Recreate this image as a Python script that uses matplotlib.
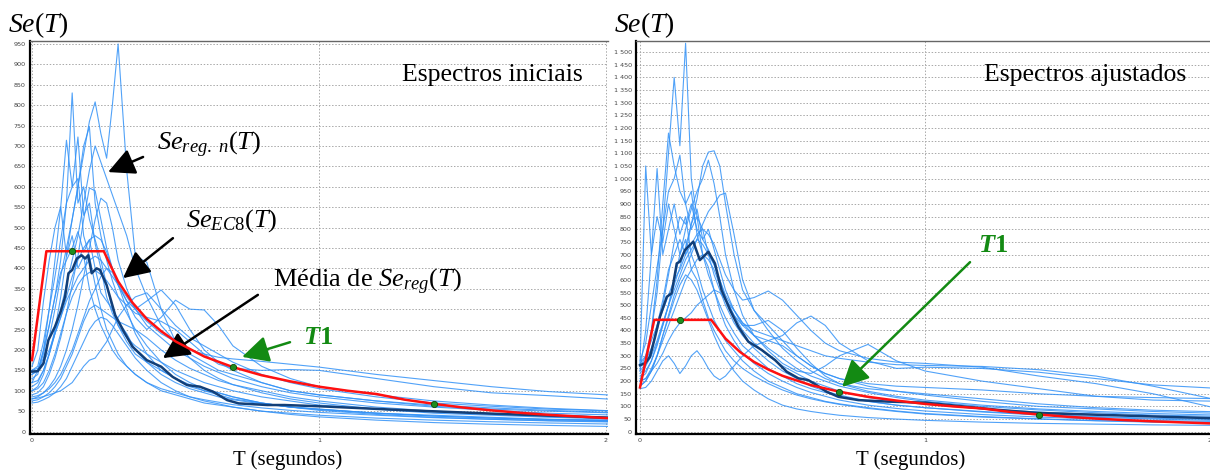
import matplotlib
matplotlib.use("Agg")
import matplotlib.pyplot as plt
from matplotlib.ticker import MultipleLocator, FuncFormatter

plt.rcParams['mathtext.fontset'] = 'custom'
plt.rcParams['mathtext.rm'] = 'Liberation Serif'
plt.rcParams['mathtext.it'] = 'Liberation Serif:italic'
plt.rcParams['mathtext.bf'] = 'Liberation Serif:bold'
plt.rcParams['mathtext.bfit'] = 'Liberation Serif:italic:bold'

# ---------------- data ----------------
T_grid = [0, 0.02, 0.04, 0.06, 0.08, 0.10, 0.12, 0.14, 0.16, 0.18, 0.20, 0.22, 0.24, 0.26,
          0.28, 0.30, 0.33, 0.36, 0.40, 0.45, 0.50, 0.55, 0.60, 0.65, 0.70, 0.80, 0.90, 1.0,
          1.2, 1.4, 1.6, 1.8, 2.05]

# initial (recorded) spectra
L01 = [120, 150, 200, 260, 330, 420, 560, 830, 560, 600, 520, 470, 420, 360, 300, 260, 220, 190, 170, 150, 130, 115, 100, 95, 85, 70, 60, 52, 42, 35, 30, 26, 23]
L02 = [140, 150, 180, 230, 300, 380, 450, 520, 600, 680, 760, 808, 730, 670, 800, 950, 640, 430, 415, 300, 220, 180, 150, 130, 115, 95, 80, 70, 55, 45, 40, 35, 30]
L03 = [100, 110, 140, 190, 250, 330, 430, 520, 600, 700, 747, 560, 480, 420, 370, 330, 290, 250, 210, 170, 140, 120, 105, 95, 85, 70, 60, 55, 45, 38, 33, 30, 26]
L04 = [150, 160, 220, 300, 380, 470, 560, 600, 722, 530, 560, 460, 400, 330, 290, 260, 230, 210, 190, 170, 150, 135, 120, 110, 100, 85, 75, 65, 55, 48, 42, 37, 33]
L05 = [130, 140, 200, 300, 420, 550, 714, 600, 620, 480, 430, 360, 300, 250, 220, 190, 160, 140, 120, 100, 90, 80, 70, 65, 60, 50, 45, 40, 33, 28, 24, 21, 18]
L06 = [110, 120, 150, 190, 240, 300, 360, 420, 480, 560, 640, 700, 660, 620, 580, 540, 480, 400, 330, 260, 220, 190, 170, 150, 140, 120, 100, 90, 75, 65, 58, 52, 46]
L07 = [90, 95, 110, 140, 180, 230, 290, 360, 430, 520, 597, 590, 520, 450, 400, 360, 300, 240, 190, 150, 130, 110, 100, 90, 80, 70, 60, 55, 45, 40, 35, 30, 28]
L08 = [80, 85, 95, 110, 130, 160, 200, 250, 310, 380, 450, 520, 572, 560, 500, 420, 350, 300, 260, 230, 200, 180, 160, 145, 130, 110, 95, 85, 70, 60, 52, 45, 40]
L09 = [160, 200, 320, 420, 500, 551, 430, 480, 400, 430, 350, 300, 260, 230, 200, 180, 160, 140, 120, 105, 95, 85, 78, 72, 66, 58, 52, 47, 40, 34, 30, 27, 24]
L10 = [75, 78, 85, 95, 110, 130, 160, 190, 230, 270, 300, 310, 300, 290, 280, 270, 260, 250, 230, 200, 175, 155, 140, 125, 115, 100, 85, 75, 60, 50, 44, 39, 35]
L11 = [85, 88, 95, 105, 120, 140, 170, 200, 240, 280, 320, 350, 380, 400, 390, 360, 320, 300, 320, 347, 310, 250, 200, 170, 150, 120, 100, 90, 75, 62, 55, 50, 45]
L12 = [120, 125, 150, 190, 240, 280, 330, 380, 420, 450, 470, 480, 470, 440, 400, 360, 320, 280, 250, 280, 322, 300, 298, 260, 210, 160, 130, 110, 90, 75, 65, 57, 50]
L13 = [150, 155, 170, 200, 240, 280, 320, 350, 380, 400, 420, 430, 420, 400, 380, 360, 330, 300, 270, 240, 220, 200, 190, 182, 178, 172, 165, 158, 140, 125, 110, 98, 88]
L14 = [100, 105, 120, 150, 190, 240, 290, 330, 360, 380, 390, 395, 385, 370, 350, 330, 310, 290, 280, 270, 250, 220, 190, 165, 155, 150, 152, 150, 130, 110, 95, 88, 78]
L15 = [70, 72, 78, 85, 95, 110, 130, 160, 190, 220, 250, 270, 280, 275, 260, 240, 210, 180, 150, 120, 100, 85, 75, 68, 60, 50, 42, 36, 28, 22, 18, 15, 12]
L16 = [140, 150, 190, 260, 330, 390, 420, 450, 490, 440, 470, 400, 340, 320, 300, 270, 240, 200, 170, 140, 120, 105, 95, 85, 78, 68, 60, 54, 45, 38, 33, 29, 26]
L17 = [80, 82, 86, 90, 95, 100, 110, 120, 140, 160, 175, 180, 200, 220, 250, 280, 310, 330, 340, 300, 260, 230, 210, 190, 170, 140, 120, 105, 85, 70, 62, 55, 50]

# adjusted spectra
R01 = [250, 300, 400, 550, 800, 1100, 1400, 1130, 1535, 1000, 850, 800, 700, 620, 560, 500, 430, 380, 330, 280, 240, 210, 180, 160, 145, 120, 105, 95, 78, 66, 57, 50, 44]
R02 = [230, 260, 300, 360, 430, 500, 580, 650, 730, 820, 920, 1050, 1105, 1110, 1050, 900, 700, 560, 480, 400, 330, 280, 240, 210, 190, 160, 140, 125, 105, 90, 80, 72, 65]
R03 = [260, 1050, 700, 850, 750, 900, 800, 700, 760, 640, 600, 520, 450, 400, 360, 320, 280, 250, 220, 190, 165, 145, 130, 118, 108, 92, 80, 70, 58, 50, 43, 38, 34]
R04 = [200, 260, 400, 600, 900, 1180, 1050, 950, 900, 800, 850, 700, 650, 560, 480, 420, 360, 310, 270, 230, 200, 175, 155, 140, 125, 105, 92, 82, 68, 58, 50, 44, 40]
R05 = [280, 350, 500, 650, 800, 950, 1000, 1093, 900, 950, 780, 700, 620, 560, 500, 450, 390, 340, 300, 250, 220, 190, 170, 155, 140, 120, 105, 95, 80, 68, 60, 53, 48]
R06 = [240, 400, 700, 1040, 700, 800, 900, 780, 850, 700, 640, 560, 500, 440, 400, 360, 320, 280, 240, 200, 175, 150, 135, 120, 110, 95, 82, 72, 60, 51, 44, 39, 35]
R07 = [220, 240, 280, 340, 420, 500, 600, 700, 800, 880, 950, 1000, 1073, 980, 850, 700, 560, 460, 380, 330, 290, 250, 220, 200, 180, 155, 135, 120, 100, 86, 75, 66, 60]
R08 = [180, 200, 240, 300, 380, 460, 540, 600, 650, 700, 760, 820, 870, 900, 935, 943, 780, 600, 480, 420, 360, 300, 260, 230, 210, 180, 160, 145, 120, 100, 90, 80, 72]
R09 = [270, 300, 360, 420, 480, 540, 600, 640, 700, 740, 780, 800, 780, 740, 680, 620, 560, 520, 530, 556, 520, 460, 400, 350, 320, 290, 275, 270, 255, 220, 190, 150, 86]
R10 = [180, 200, 240, 300, 360, 420, 480, 540, 600, 640, 680, 700, 680, 640, 580, 520, 460, 420, 380, 360, 380, 430, 457, 420, 350, 280, 250, 255, 250, 235, 210, 185, 170]
R11 = [200, 210, 240, 270, 310, 360, 400, 430, 450, 470, 500, 520, 540, 560, 550, 520, 480, 430, 380, 320, 270, 240, 230, 260, 300, 345, 280, 240, 200, 170, 140, 125, 120]
R12 = [170, 175, 200, 240, 280, 300, 270, 230, 260, 300, 320, 290, 250, 220, 205, 220, 260, 300, 340, 360, 340, 300, 260, 230, 210, 190, 180, 175, 165, 150, 140, 135, 130]
R13 = [200, 210, 250, 300, 380, 450, 520, 580, 620, 600, 560, 500, 440, 380, 330, 290, 240, 200, 165, 130, 105, 90, 80, 72, 65, 56, 50, 45, 38, 33, 30, 27, 25]
R14 = [260, 280, 330, 400, 500, 620, 750, 850, 820, 900, 800, 760, 720, 660, 600, 530, 460, 400, 350, 300, 260, 230, 200, 180, 160, 135, 120, 108, 90, 78, 68, 60, 55]
R15 = [240, 270, 320, 420, 520, 640, 700, 760, 700, 820, 880, 760, 800, 720, 640, 560, 480, 420, 420, 440, 400, 330, 270, 220, 190, 170, 160, 150, 130, 110, 95, 85, 78]
R16 = [210, 230, 280, 350, 420, 500, 560, 620, 680, 720, 760, 740, 700, 660, 600, 540, 480, 430, 400, 380, 360, 340, 320, 300, 290, 275, 265, 262, 258, 245, 220, 180, 120]

# mean of the spectra
mean_L_T = [0, 0.02, 0.04, 0.057, 0.08, 0.10, 0.115, 0.127, 0.14, 0.156, 0.173, 0.185, 0.196, 0.208, 0.225, 0.237, 0.26, 0.29, 0.32, 0.35, 0.40, 0.45, 0.49, 0.54, 0.585, 0.63, 0.68, 0.72, 0.82, 0.88, 1.0, 1.28, 1.6, 2.05]
mean_L   = [147, 148, 167, 224, 257, 294, 330, 388, 396, 424, 432, 424, 432, 388, 400, 396, 359, 285, 245, 208, 175, 159, 134, 114, 110, 98, 77, 69, 65, 65, 62, 53, 44, 33]
mean_R_T = [0, 0.018, 0.035, 0.053, 0.07, 0.094, 0.111, 0.129, 0.14, 0.158, 0.175, 0.187, 0.21, 0.24, 0.263, 0.286, 0.316, 0.345, 0.38, 0.427, 0.474, 0.515, 0.556, 0.59, 0.62, 0.655, 0.696, 0.766, 0.87, 1.0, 1.26, 1.4, 2.05]
mean_R   = [263, 270, 296, 375, 454, 533, 547, 665, 672, 718, 738, 751, 678, 711, 665, 560, 481, 415, 356, 323, 283, 237, 211, 204, 184, 158, 138, 125, 119, 115, 86, 74, 52]

# EC8 design spectrum
ec8_T  = [0, 0.05, 0.25, 0.30, 0.35, 0.40, 0.45, 0.50, 0.60, 0.70, 0.80, 0.90, 1.0, 1.1, 1.2, 1.3, 1.4, 1.5, 1.6, 1.7, 1.8, 1.9, 2.0, 2.05]
ec8_Se = [175, 442, 442, 368, 316, 276, 246, 221, 184, 158, 138, 123, 110, 100, 92, 78, 68, 59, 52, 46, 41, 37, 33, 32]

# marked periods
pts_T  = [0.14, 0.70, 1.40]
pts_Se = [442, 158, 68]

left_spectra = [L01, L02, L03, L04, L05, L06, L07, L08, L09, L10, L11, L12, L13, L14, L15, L16, L17]
right_spectra = [R01, R02, R03, R04, R05, R06, R07, R08, R09, R10, R11, R12, R13, R14, R15, R16]

# ---------------- drawing ----------------
W, H = 1210, 471
fig = plt.figure(figsize=(W / 100, H / 100), dpi=100)
fig.patch.set_facecolor('white')

def px_axes(x0, y0, x1, y1):
    return fig.add_axes([x0 / W, 1 - y1 / H, (x1 - x0) / W, (y1 - y0) / H])

axL = px_axes(30, 40.7, 608, 434)
axR = px_axes(636, 40.7, 1210, 433.5)

serif = 'Liberation Serif'
light = '#3392f7'
dark = '#123f78'
red = '#ff1010'
green = '#138a13'

def style(ax, ystep, fmt):
    ax.set_facecolor('white')
    ax.xaxis.set_major_locator(MultipleLocator(1))
    ax.yaxis.set_major_locator(MultipleLocator(ystep))
    ax.yaxis.set_major_formatter(FuncFormatter(fmt))
    ax.xaxis.set_major_formatter(FuncFormatter(lambda v, p: f'{int(round(v))}'))
    ax.grid(True, color='#a8a8a8', lw=0.7, linestyle=(0, (1.5, 1.8)))
    ax.set_axisbelow(True)
    ax.tick_params(length=0, labelsize=4.6, labelcolor='#444444', pad=3)
    for s in ('left', 'bottom'):
        ax.spines[s].set_color('black')
        ax.spines[s].set_linewidth(1.6)
    ax.spines['top'].set_color('#666666')
    ax.spines['top'].set_linewidth(1.0)
    ax.spines['right'].set_visible(False)

def fmt_plain(v, p):
    return f'{int(round(v))}'

def fmt_space(v, p):
    v = int(round(v))
    if v >= 1000:
        return f'{v // 1000} {v % 1000:03d}'
    return f'{v}'

for ax, spectra, mT, mS in ((axL, left_spectra, mean_L_T, mean_L), (axR, right_spectra, mean_R_T, mean_R)):
    for s in spectra:
        ax.plot(T_grid, s, color=light, lw=0.8, alpha=0.85, zorder=2)
    ax.plot(ec8_T, ec8_Se, color=red, lw=1.8, zorder=4)
    ax.plot(mT, mS, color=dark, lw=1.8, zorder=3)
    ax.plot(pts_T, pts_Se, linestyle='none', marker='o', ms=4.5, mfc='#1e8c1e', mec='#0a4a0a', mew=0.6, zorder=5)

axL.set_xlim(-0.007, 2.007)
axL.set_ylim(-6, 958)
style(axL, 50, fmt_plain)
axR.set_xlim(-0.014, 2.0)
axR.set_ylim(-7, 1545)
style(axR, 50, fmt_space)

# titles / axis labels
fig.text(8 / W, 1 - 32 / H, r'$Se(T)$', fontsize=20, va='baseline', ha='left')
fig.text(614 / W, 1 - 32 / H, r'$Se(T)$', fontsize=20, va='baseline', ha='left')
fig.text(288 / W, 1 - 460 / H, 'T (segundos)', fontsize=15, family=serif, ha='center', va='center')
fig.text(911 / W, 1 - 460 / H, 'T (segundos)', fontsize=15, family=serif, ha='center', va='center')

axL.text(1.603, 874, 'Espectros iniciais', fontsize=18.5, family=serif, ha='center', va='center')
axR.text(1.561, 1409, 'Espectros ajustados', fontsize=18.5, family=serif, ha='center', va='center')

arrow_k = dict(arrowstyle='-|>,head_length=0.9,head_width=0.45', color='black', lw=1.8,
               mutation_scale=18, shrinkA=0, shrinkB=0)
arrow_g = dict(arrowstyle='-|>,head_length=0.9,head_width=0.45', color=green, lw=1.8,
               mutation_scale=18, shrinkA=0, shrinkB=0)

axL.text(0.617, 702, r'$Se_{reg.\ n}(T)$', fontsize=19, ha='center', va='center')
axL.annotate('', xy=(0.265, 636), xytext=(0.387, 673), arrowprops=arrow_k)
axL.text(0.697, 518, r'$Se_{\mathit{EC8}}(T)$', fontsize=19, ha='center', va='center')
axL.annotate('', xy=(0.317, 376), xytext=(0.491, 474), arrowprops=arrow_k)
axL.text(1.167, 366, r'Média de $Se_{reg}(T)$', fontsize=19, family=serif, ha='center', va='center')
axL.annotate('', xy=(0.456, 180), xytext=(0.787, 335), arrowprops=arrow_k)
axL.text(0.997, 232, r'$\mathbfit{T}\mathbf{1}$', fontsize=19, color=green, ha='center', va='center')
axL.annotate('', xy=(0.732, 183), xytext=(0.899, 219), arrowprops=arrow_g)

axR.text(1.239, 738, r'$\mathbfit{T}\mathbf{1}$', fontsize=19, color=green, ha='center', va='center')
axR.annotate('', xy=(0.709, 177), xytext=(1.158, 670), arrowprops=arrow_g)

fig.savefig('out.png', dpi=100, facecolor='white')
